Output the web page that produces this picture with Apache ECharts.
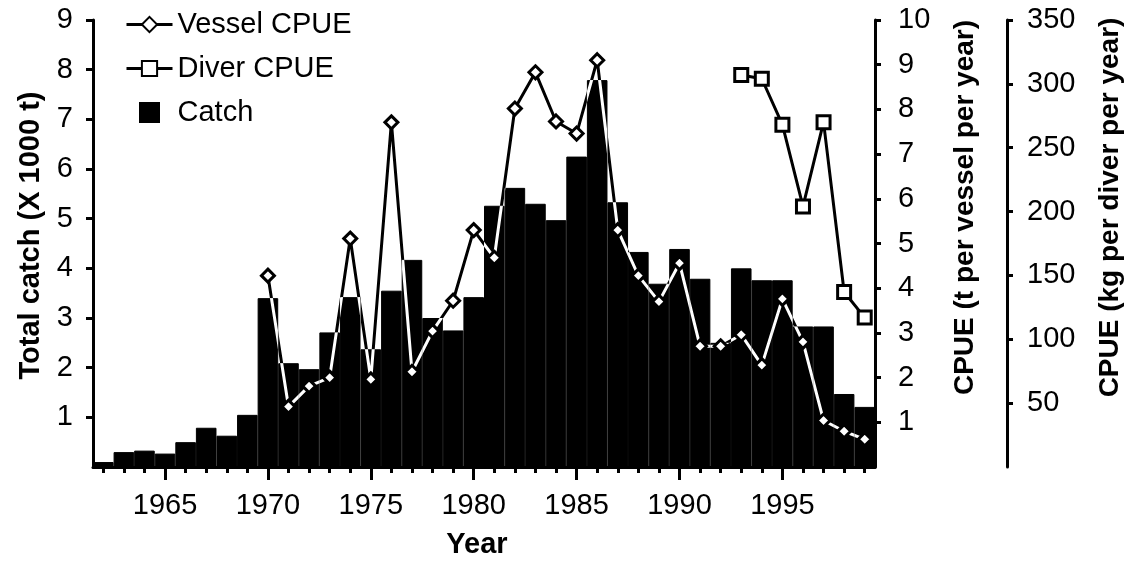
<!DOCTYPE html>
<html>
<head>
<meta charset="utf-8">
<script src="https://cdn.jsdelivr.net/npm/echarts@6/dist/echarts.min.js"></script>
<style>
  html, body { margin: 0; padding: 0; background: #fff; }
  #chart { width: 1132px; height: 564px; }
</style>
</head>
<body>
<div id="chart"></div>
<script>
var years = [];
for (var y = 1962; y <= 1999; y++) years.push(String(y));

// catch, x 1000 t
var catchData = [0.1, 0.3, 0.33, 0.27, 0.5, 0.79, 0.63, 1.05, 3.4, 2.09,
                 1.97, 2.71, 3.42, 2.37, 3.55, 4.17, 3.0, 2.75, 3.42, 5.26,
                 5.62, 5.3, 4.97, 6.25, 7.79, 5.33, 4.33, 3.69, 4.39, 3.79,
                 2.5, 4.0, 3.76, 3.76, 2.83, 2.83, 1.47, 1.21];

// t per vessel per year (from 1970)
var vesselCpue = [null, null, null, null, null, null, null, null, 4.28, 1.35,
                  1.81, 2.0, 5.11, 1.96, 7.71, 2.13, 3.04, 3.72, 5.3, 4.68,
                  8.02, 8.83, 7.73, 7.46, 9.1, 5.3, 4.28, 3.7, 4.56, 2.7,
                  2.7, 2.96, 2.28, 3.76, 2.8, 1.04, 0.8, 0.62];

// kg per diver per year (from 1993)
var diverCpue = [null, null, null, null, null, null, null, null, null, null,
                 null, null, null, null, null, null, null, null, null, null,
                 null, null, null, null, null, null, null, null, null, null,
                 null, 307, 304, 268, 204, 270, 137, 117];

var font = 'Liberation Sans, Arial, sans-serif';
var lbl = { color: '#000', fontSize: 29, fontFamily: font };
var nameStyle = { color: '#000', fontSize: 28, fontWeight: 'bold', fontFamily: font };
var axisLine = { show: true, lineStyle: { color: '#000', width: 3 } };

var chart = echarts.init(document.getElementById('chart'), null, { renderer: 'canvas' });

chart.setOption({
  backgroundColor: '#fff',
  animation: false,
  legend: {
    orient: 'vertical',
    left: 120,
    top: 5,
    itemWidth: 46,
    itemHeight: 19,
    itemGap: 15,
    textStyle: { color: '#000', fontSize: 29, fontFamily: font },
    data: [
      { name: 'Vessel CPUE', lineStyle: { color: '#000', width: 3, opacity: 1 } },
      { name: 'Diver CPUE', lineStyle: { color: '#000', width: 3, opacity: 1 } },
      { name: 'Catch', icon: 'path://M0,0 L10,0 L10,10 L0,10 Z' }
    ]
  },
  grid: { left: 93, right: 257, top: 20, bottom: 94 },
  xAxis: [{
    type: 'category',
    data: years,
    boundaryGap: true,
    name: 'Year',
    nameLocation: 'middle',
    nameGap: 63,
    nameTextStyle: Object.assign({}, nameStyle, { fontSize: 29, padding: [0, 14, 0, 0] }),
    axisLine: axisLine,
    axisTick: { show: true, alignWithLabel: true, interval: 0, length: 6, lineStyle: { color: '#000', width: 3 } },
    axisLabel: Object.assign({}, lbl, {
      margin: 24,
      interval: function (i, v) { return Number(v) % 5 === 0; }
    }),
    splitLine: { show: false }
  }, {
    type: 'category',
    data: years,
    position: 'bottom',
    boundaryGap: true,
    axisLine: { show: false },
    axisTick: {
      show: true, alignWithLabel: true, length: 13,
      interval: function (i, v) { return Number(v) % 5 === 0; },
      lineStyle: { color: '#000', width: 3 }
    },
    axisLabel: { show: false },
    splitLine: { show: false }
  }],
  yAxis: [{
    type: 'value',
    min: 0, max: 9, interval: 1,
    position: 'left',
    name: 'Total catch (X 1000 t)',
    nameLocation: 'middle',
    nameGap: 48,
    nameTextStyle: Object.assign({}, nameStyle, { fontSize: 29, padding: [0, 0, 0, 16] }),
    axisLine: axisLine,
    axisTick: { show: true, length: 7, lineStyle: { color: '#000', width: 3 } },
    axisLabel: Object.assign({}, lbl, { margin: 20, showMinLabel: false }),
    splitLine: { show: false }
  }, {
    type: 'value',
    min: 0, max: 10, interval: 1,
    position: 'right',
    name: 'CPUE (t per vessel per year)',
    nameLocation: 'middle',
    nameGap: 76,
    nameTextStyle: Object.assign({}, nameStyle, { padding: [0, 0, 0, 72] }),
    axisLine: axisLine,
    axisTick: { show: true, length: 6, lineStyle: { color: '#000', width: 3 } },
    axisLabel: Object.assign({}, lbl, { margin: 23, showMinLabel: false }),
    splitLine: { show: false }
  }, {
    type: 'value',
    min: 0, max: 350, interval: 50,
    position: 'right',
    offset: 132,
    name: 'CPUE (kg per diver per year)',
    nameLocation: 'middle',
    nameGap: 89,
    nameTextStyle: Object.assign({}, nameStyle, { padding: [0, 0, 0, 72] }),
    axisLine: axisLine,
    axisTick: { show: true, length: 6, lineStyle: { color: '#000', width: 3 } },
    axisLabel: Object.assign({}, lbl, { margin: 20, showMinLabel: false }),
    splitLine: { show: false }
  }],
  series: [{
    name: 'Catch',
    type: 'bar',
    data: catchData,
    barCategoryGap: '0%',
    itemStyle: { color: '#000', borderColor: '#000', borderWidth: 1 },
    z: 2
  }, {
    // line that inverts whatever it is drawn over
    name: 'vesselLine',
    type: 'line',
    yAxisIndex: 1,
    data: vesselCpue,
    showSymbol: false,
    connectNulls: false,
    lineStyle: { color: '#fff', width: 3 },
    blendMode: 'difference',
    z: 3
  }, {
    name: 'Vessel CPUE',
    type: 'line',
    yAxisIndex: 1,
    data: vesselCpue,
    symbol: 'diamond',
    symbolSize: 13,
    lineStyle: { width: 0, opacity: 0 },
    itemStyle: { color: '#fff', borderColor: '#000', borderWidth: 3 },
    z: 4
  }, {
    name: 'Diver CPUE',
    type: 'line',
    yAxisIndex: 2,
    data: diverCpue,
    symbol: 'rect',
    symbolSize: 13,
    lineStyle: { color: '#000', width: 3 },
    itemStyle: { color: '#fff', borderColor: '#000', borderWidth: 3 },
    z: 4
  }]
});
</script>
</body>
</html>
